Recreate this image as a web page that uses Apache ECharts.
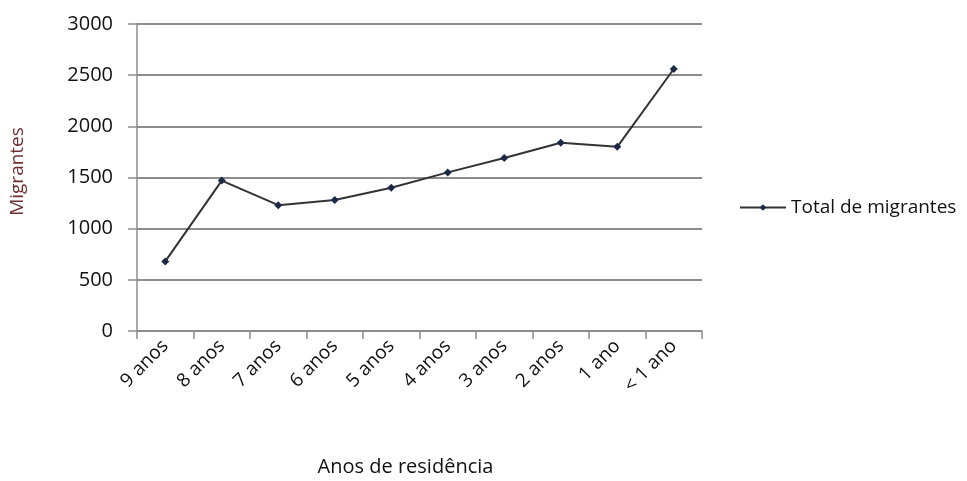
<!DOCTYPE html>
<html>
<head>
<meta charset="utf-8">
<script src="https://cdn.jsdelivr.net/npm/echarts@6/dist/echarts.min.js"></script>
<style>
  html, body { margin: 0; padding: 0; background: #fff; }
  #chart { width: 967px; height: 481px; }
</style>
</head>
<body>
<div id="chart"></div>
<script>
// dados
const categorias = ['9 anos', '8 anos', '7 anos', '6 anos', '5 anos', '4 anos', '3 anos', '2 anos', '1 ano', '< 1 ano']
const totalMigrantes = [680, 1470, 1230, 1280, 1400, 1550, 1690, 1840, 1800, 2560]
const nomeSerie = 'Total de migrantes'

const fonte = '"Open Sans", sans-serif'
const cinza = '#8c8c8c'

const chart = echarts.init(document.getElementById('chart'))
chart.setOption({
  backgroundColor: '#fff',
  animation: false,
  textStyle: { fontFamily: fonte },
  grid: { left: 137, right: 265, top: 24, bottom: 150, outerBoundsMode: 'none' },
  legend: {
    data: [nomeSerie],
    left: 734,
    top: 193,
    itemWidth: 46,
    itemHeight: 8,
    itemGap: 2,
    textStyle: { fontSize: 19, color: '#111', fontFamily: fonte }
  },
  xAxis: {
    type: 'category',
    data: categorias,
    boundaryGap: true,
    name: 'Anos de residência',
    nameLocation: 'middle',
    nameGap: 126,
    nameTextStyle: { fontSize: 20, color: '#111', fontFamily: fonte, padding: [0, 28, 0, 0] },
    axisLine: { lineStyle: { color: cinza, width: 1.5 } },
    axisTick: { show: true, length: 8, alignWithLabel: false, lineStyle: { color: cinza, width: 1.5 } },
    axisLabel: { rotate: 45, fontSize: 19, color: '#111', margin: 12, interval: 0 }
  },
  yAxis: {
    type: 'value',
    min: 0,
    max: 3000,
    interval: 500,
    name: 'Migrantes',
    nameLocation: 'middle',
    nameGap: 110,
    nameTextStyle: { fontSize: 19, color: '#6e3030', fontFamily: fonte, padding: [0, 0, 0, 12] },
    axisLine: { show: true, lineStyle: { color: cinza, width: 1.5 } },
    axisTick: { show: true, length: 9, lineStyle: { color: cinza, width: 1.5 } },
    axisLabel: { fontSize: 20, color: '#111', margin: 24, formatter: (v) => String(v) },
    splitLine: { show: true, lineStyle: { color: cinza, width: 2 } }
  },
  series: [
    {
      name: nomeSerie,
      type: 'line',
      data: totalMigrantes,
      symbol: 'diamond',
      symbolSize: 8,
      lineStyle: { color: '#333', width: 2 },
      itemStyle: { color: '#1c2a48' }
    }
  ]
})
</script>
</body>
</html>
